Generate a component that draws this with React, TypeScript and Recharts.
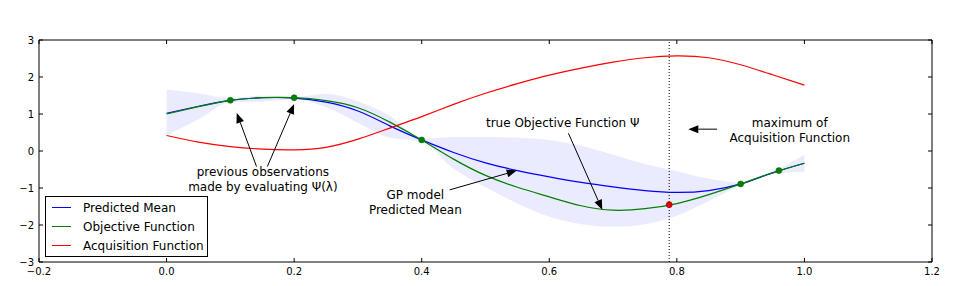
import React from "react";
import {
  ComposedChart,
  Line,
  Area,
  Scatter,
  XAxis,
  YAxis,
  ReferenceLine,
  ReferenceDot,
  Legend,
} from "recharts";

// sample positions along the objective domain
const xs = [0, 0.05, 0.1, 0.15, 0.2, 0.25, 0.3, 0.35, 0.4, 0.45, 0.5, 0.55, 0.6, 0.65, 0.7, 0.75, 0.8, 0.85, 0.9, 0.95, 1.0];
const objective = [1.0, 1.2, 1.37, 1.44, 1.44, 1.36, 1.17, 0.78, 0.3, -0.22, -0.66, -0.98, -1.24, -1.48, -1.6, -1.56, -1.42, -1.18, -0.89, -0.59, -0.33];
const predicted = [1.02, 1.21, 1.37, 1.44, 1.43, 1.32, 1.08, 0.68, 0.3, -0.04, -0.32, -0.53, -0.7, -0.85, -0.97, -1.07, -1.12, -1.07, -0.89, -0.59, -0.33];
const acquisition = [0.42, 0.24, 0.12, 0.05, 0.03, 0.1, 0.32, 0.62, 0.93, 1.26, 1.56, 1.82, 2.05, 2.24, 2.4, 2.52, 2.57, 2.52, 2.33, 2.06, 1.78];
const bandLower = [0.42, 0.85, 1.32, 1.34, 1.4, 1.18, 0.76, 0.36, 0.26, -0.48, -0.98, -1.42, -1.78, -1.98, -2.05, -1.98, -1.75, -1.35, -0.93, -0.63, -0.56];
const bandUpper = [1.66, 1.56, 1.42, 1.5, 1.46, 1.55, 1.34, 0.95, 0.34, 0.38, 0.38, 0.36, 0.3, 0.14, -0.1, -0.35, -0.55, -0.75, -0.85, -0.55, -0.1];

// evaluated points and the next proposed point
const obsX = [0.1, 0.2, 0.4, 0.9, 0.96];
const obsY = [1.37, 1.44, 0.3, -0.89, -0.53];
const nextX = [0.788];
const nextY = [-1.45];
const maxAcqX = 0.788;

const xTicks = [-0.2, 0, 0.2, 0.4, 0.6, 0.8, 1.0, 1.2];
const yTicks = [-3, -2, -1, 0, 1, 2, 3];

const seriesNames = ["Predicted Mean", "Objective Function", "Acquisition Function"];
const seriesColors = ["#0000ff", "#008000", "#ff0000"];

const curveData = xs.map((x, i) => ({
  x,
  objective: objective[i],
  predicted: predicted[i],
  acquisition: acquisition[i],
  band: [bandLower[i], bandUpper[i]],
}));
const obsData = obsX.map((x, i) => ({ x, y: obsY[i] }));
const nextData = nextX.map((x, i) => ({ x, y: nextY[i] }));

// annotation text (data coords of first line centre) and arrows (tail -> tip)
const notes = [
  { x: 0.151, y: -0.57, lines: ["previous observations", "made by evaluating \u03a8(\u03bb)"] },
  { x: 0.39, y: -1.19, lines: ["GP model", "Predicted Mean"] },
  { x: 0.621, y: 0.76, lines: ["true Objective Function \u03a8"] },
  { x: 0.977, y: 0.765, lines: ["maximum of", "Acquisition Function"] },
];
const arrows = [
  { from: [0.141, -0.42], to: [0.11, 1.03] },
  { from: [0.158, -0.42], to: [0.2, 1.27] },
  { from: [0.444, -1.05], to: [0.549, -0.53] },
  { from: [0.63, 0.48], to: [0.683, -1.59] },
  { from: [0.863, 0.59], to: [0.818, 0.59] },
];

const FONT = "'DejaVu Sans', sans-serif";
const TICK_LEN = 4;
const fmt = (v: number) => (v < 0 ? "\u2212" : "") + Math.abs(v).toFixed(1);
const fmtY = (v: number) => (v < 0 ? "\u2212" : "") + Math.abs(v).toString();

const BottomTick = ({ x, y, payload }: any) => (
  <g>
    <line x1={x} x2={x} y1={y} y2={y - TICK_LEN} stroke="#000" />
    <text x={x} y={y + 12.5} textAnchor="middle" fontSize={10} fontFamily={FONT} fill="#000">
      {fmt(payload.value)}
    </text>
  </g>
);
const TopTick = ({ x, y }: any) => <line x1={x} x2={x} y1={y} y2={y + TICK_LEN} stroke="#000" />;
const LeftTick = ({ x, y, payload }: any) => (
  <g>
    <line x1={x} x2={x + TICK_LEN} y1={y} y2={y} stroke="#000" />
    <text x={x - 5} y={y} dy="0.36em" textAnchor="end" fontSize={10} fontFamily={FONT} fill="#000">
      {fmtY(payload.value)}
    </text>
  </g>
);
const RightTick = ({ x, y }: any) => <line x1={x} x2={x - TICK_LEN} y1={y} y2={y} stroke="#000" />;

const arrowShape = (p: any) => {
  const { x1, y1, x2, y2 } = p;
  const a = Math.atan2(y2 - y1, x2 - x1);
  const hl = 10;
  const hw = 4;
  const bx = x2 - hl * Math.cos(a);
  const by = y2 - hl * Math.sin(a);
  const px = -Math.sin(a) * hw;
  const py = Math.cos(a) * hw;
  return (
    <g>
      <line x1={x1} y1={y1} x2={bx} y2={by} stroke="#000" strokeWidth={1} />
      <polygon points={`${x2},${y2} ${bx + px},${by + py} ${bx - px},${by - py}`} fill="#000" />
    </g>
  );
};

const noteShape = (lines: string[]) => (p: any) => (
  <text x={p.cx} y={p.cy} textAnchor="middle" fontSize={12} fontFamily={FONT} fill="#000">
    {lines.map((l, i) => (
      <tspan key={i} x={p.cx} dy={i === 0 ? "0.36em" : 15}>
        {l}
      </tspan>
    ))}
  </text>
);

const renderLegend = () => (
  <div
    style={{
      border: "1px solid #000",
      background: "#fff",
      width: 163,
      height: 61,
      boxSizing: "border-box",
      paddingTop: 1,
      fontFamily: FONT,
      fontSize: 12,
      color: "#000",
    }}
  >
    {seriesNames.map((n, i) => (
      <div key={n} style={{ display: "flex", alignItems: "center", height: 19 }}>
        <svg width={37} height={19} style={{ flex: "none" }}>
          <line x1={6} x2={25} y1={9.5} y2={9.5} stroke={seriesColors[i]} strokeWidth={1} />
        </svg>
        <span style={{ whiteSpace: "nowrap" }}>{n}</span>
      </div>
    ))}
  </div>
);

export default function App() {
  return (
    <div style={{ width: 961, height: 286, background: "#fff" }}>
      <style>{"body{margin:0}"}</style>
      <ComposedChart width={961} height={286} data={curveData} margin={{ top: 39, right: 28, bottom: 0, left: 0 }}>
        <XAxis
          dataKey="x"
          type="number"
          domain={[-0.2, 1.2]}
          ticks={xTicks}
          height={24}
          tickSize={0}
          tickMargin={0}
          tickLine={false}
          tick={BottomTick}
          axisLine={{ stroke: "#000" }}
          allowDataOverflow
        />
        <XAxis
          xAxisId="top"
          orientation="top"
          dataKey="x"
          type="number"
          domain={[-0.2, 1.2]}
          ticks={xTicks}
          height={1}
          tickSize={0}
          tickMargin={0}
          tickLine={false}
          tick={TopTick}
          axisLine={{ stroke: "#000" }}
          allowDataOverflow
        />
        <YAxis
          type="number"
          domain={[-3, 3]}
          ticks={yTicks}
          width={39}
          tickSize={0}
          tickMargin={0}
          tickLine={false}
          tick={LeftTick}
          axisLine={{ stroke: "#000" }}
          allowDataOverflow
        />
        <YAxis
          yAxisId="right"
          orientation="right"
          type="number"
          domain={[-3, 3]}
          ticks={yTicks}
          width={1}
          tickSize={0}
          tickMargin={0}
          tickLine={false}
          tick={RightTick}
          axisLine={{ stroke: "#000" }}
          allowDataOverflow
        />
        <Area
          dataKey="band"
          type="monotone"
          stroke="none"
          fill="#0000ff"
          fillOpacity={0.08}
          isAnimationActive={false}
          legendType="none"
          activeDot={false}
        />
        <Line dataKey="predicted" name={seriesNames[0]} type="natural" stroke={seriesColors[0]} strokeWidth={1.2} dot={false} activeDot={false} isAnimationActive={false} />
        <Line dataKey="objective" name={seriesNames[1]} type="natural" stroke={seriesColors[1]} strokeWidth={1.2} dot={false} activeDot={false} isAnimationActive={false} />
        <Line dataKey="acquisition" name={seriesNames[2]} type="natural" stroke={seriesColors[2]} strokeWidth={1.2} dot={false} activeDot={false} isAnimationActive={false} />
        <Scatter
          data={obsData}
          dataKey="y"
          legendType="none"
          isAnimationActive={false}
          shape={(p: any) => <circle cx={p.cx} cy={p.cy} r={3} fill="#008000" stroke="#006400" strokeWidth={0.5} />}
        />
        <Scatter
          data={nextData}
          dataKey="y"
          legendType="none"
          isAnimationActive={false}
          shape={(p: any) => <circle cx={p.cx} cy={p.cy} r={3} fill="#e00000" stroke="#8b0000" strokeWidth={0.6} />}
        />
        <ReferenceLine x={maxAcqX} stroke="#000" strokeDasharray="1 2" strokeWidth={1} />
        {arrows.map((a, i) => (
          <ReferenceLine
            key={`arrow-${i}`}
            segment={[
              { x: a.from[0], y: a.from[1] },
              { x: a.to[0], y: a.to[1] },
            ]}
            shape={arrowShape}
          />
        ))}
        {notes.map((n, i) => (
          <ReferenceDot key={`note-${i}`} x={n.x} y={n.y} r={0} shape={noteShape(n.lines)} />
        ))}
        <Legend
          layout="vertical"
          align="center"
          verticalAlign="middle"
          content={renderLegend}
          wrapperStyle={{ left: 45, top: 196, right: "auto", bottom: "auto", width: "auto" }}
        />
      </ComposedChart>
    </div>
  );
}
